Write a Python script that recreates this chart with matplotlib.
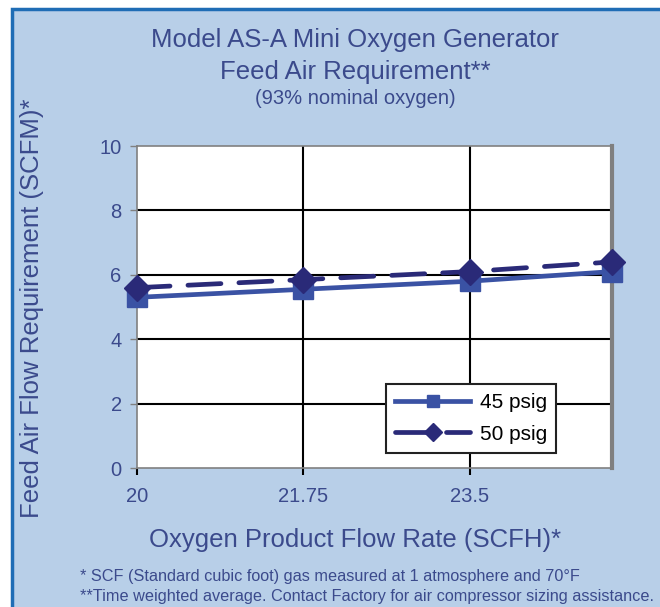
import matplotlib

matplotlib.use("Agg")
import matplotlib.pyplot as plt
from matplotlib.patches import Rectangle

plt.rcParams["font.family"] = ["Liberation Sans", "DejaVu Sans"]

# data
flow_scfh = [20.0, 21.75, 23.5, 25.0]
air_45psig = [5.3, 5.55, 5.8, 6.1]
air_50psig = [5.6, 5.85, 6.1, 6.4]
x_ticks = [20, 21.75, 23.5]
x_tick_labels = ["20", "21.75", "23.5"]
y_ticks = [0, 2, 4, 6, 8, 10]

BG = "#b8cfe8"
TEXT = "#3b4a8c"
C45 = "#3a52a4"
C50 = "#2a2a78"

W, H = 660, 607
fig = plt.figure(figsize=(W / 100, H / 100), dpi=100, facecolor="white")

# light blue panel with dark blue frame (only top/left visible in the crop)
fig.patches.append(Rectangle((12 / W, -0.2), 1.2, 1.2 - 9 / H, transform=fig.transFigure,
                             facecolor=BG, edgecolor="#1f6db5", linewidth=2.5, zorder=-5))

ax = fig.add_axes([137 / W, 1 - 468 / H, (612 - 137) / W, (468 - 146) / H])
ax.set_zorder(2)
ax.set_facecolor("white")
ax.set_xlim(20, 25)
ax.set_ylim(0, 10)

for y in y_ticks[1:-1]:
    ax.axhline(y, color="black", linewidth=1.5, zorder=1)
for x in x_ticks[1:]:
    ax.axvline(x, color="black", linewidth=1.5, zorder=1)

ax.plot(flow_scfh, air_45psig, color=C45, linewidth=3.4, marker="s", markersize=15,
        label="45 psig", zorder=3, clip_on=False)
ax.plot(flow_scfh, air_50psig, color=C50, linewidth=3.4, linestyle=(0, (7, 3.8)),
        marker="D", markersize=13.5, label="50 psig", zorder=4, clip_on=False,
        dash_capstyle="round")

for side in ("left", "bottom", "top"):
    ax.spines[side].set_color("#808080")
    ax.spines[side].set_linewidth(1.2)
ax.spines["right"].set_color("#808080")
ax.spines["right"].set_linewidth(3)

ax.set_xticks(x_ticks)
ax.set_xticklabels(x_tick_labels)
ax.set_yticks(y_ticks)
ax.tick_params(axis="both", colors="#808080", labelcolor=TEXT, labelsize=14.5,
               length=5, width=1, direction="out")
ax.tick_params(axis="x", pad=9, color="black", width=1.5)
ax.tick_params(axis="y", pad=6)

leg = ax.legend(loc="lower left", bbox_to_anchor=((386 - 137) / 475, (468 - 453) / 322),
                frameon=True, fancybox=False, fontsize=15, handlelength=3.6,
                borderpad=0.45, labelspacing=0.6, handletextpad=0.45, borderaxespad=0)
leg.get_frame().set_edgecolor("#222222")
leg.get_frame().set_linewidth(1.5)
leg.get_frame().set_alpha(1)
for handle in leg.legend_handles:
    handle.set_markersize(9)

fig.text(355 / W, 1 - 40 / H, "Model AS-A Mini Oxygen Generator", ha="center",
         va="center", fontsize=18.5, color=TEXT)
fig.text(355 / W, 1 - 72 / H, "Feed Air Requirement**", ha="center", va="center",
         fontsize=18.5, color=TEXT)
fig.text(355 / W, 1 - 98 / H, "(93% nominal oxygen)", ha="center", va="center",
         fontsize=14.5, color=TEXT)
fig.text(355 / W, 1 - 540 / H, "Oxygen Product Flow Rate (SCFH)*", ha="center",
         va="center", fontsize=18.5, color=TEXT)
fig.text(32 / W, 1 - 308 / H, "Feed Air Flow Requirement (SCFM)*", ha="center",
         va="center", rotation=90, fontsize=18.5, color=TEXT)
fig.text(80 / W, 1 - 577 / H,
         "* SCF (Standard cubic foot) gas measured at 1 atmosphere and 70\u00b0F",
         ha="left", va="center", fontsize=11.7, color=TEXT)
fig.text(80 / W, 1 - 597 / H,
         "**Time weighted average. Contact Factory for air compressor sizing assistance.",
         ha="left", va="center", fontsize=11.7, color=TEXT)

fig.savefig("out.png", dpi=100, facecolor=fig.get_facecolor())
